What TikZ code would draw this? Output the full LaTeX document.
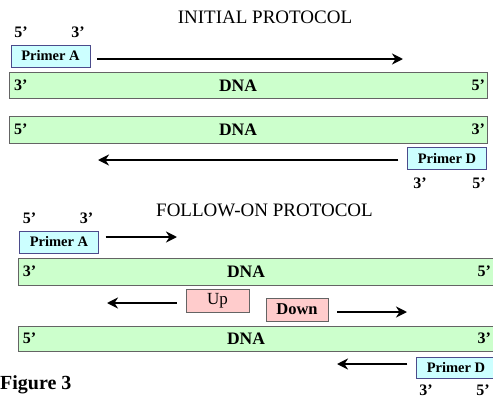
\documentclass[tikz,border=0pt]{standalone}
\usepackage{fontspec}
\setmainfont{Liberation Serif}
\usetikzlibrary{arrows.meta,positioning}
\definecolor{strandfill}{RGB}{204,255,204}
\definecolor{primerfill}{RGB}{204,255,255}
\definecolor{probefill}{RGB}{255,204,204}
\definecolor{edge}{RGB}{100,100,100}
\tikzset{
  strand/.style={draw=edge, fill=strandfill, minimum width=478pt, minimum height=26pt, inner sep=0pt},
  primer/.style={draw=edge!75!blue, fill=primerfill, minimum width=79pt, minimum height=22pt,
                 inner sep=0pt, font=\fontsize{14.5}{14.5}\selectfont\bfseries},
  probe/.style={draw=edge, fill=probefill, minimum height=23pt, inner sep=0pt},
  dnatext/.style={font=\fontsize{17.5}{17.5}\selectfont\bfseries, inner sep=0pt},
  endtag/.style={font=\fontsize{16}{16}\selectfont\bfseries, inner sep=0pt},
  heading/.style={font=\fontsize{19}{19}\selectfont, inner sep=0pt},
  flow/.style={-{Stealth[length=11pt,width=11pt,inset=3.5pt]}, line width=2.6pt},
}
\begin{document}
\begin{tikzpicture}[x=1pt,y=-1pt]
\useasboundingbox (0,0) rectangle (493,399);
\clip (0,0) rectangle (493,399);

% initial protocol
\node[heading] (t1) at (265,17) {INITIAL PROTOCOL};
\node[endtag] (pa1five) at (21,32) {5'};
\node[endtag] (pa1three) at (78,32) {3'};
\node[primer] (pa1) at (50.5,56) {Primer A};
\node[strand] (s1) at (248,85.5) {};
\node[dnatext] (s1lab) at (238,85.5) {DNA};
\node[endtag,right=5pt of s1.west] (s1l) {3'};
\node[endtag,left=2pt of s1.east] (s1r) {5'};
\node[strand,minimum height=27pt] (s2) at (248,129.5) {};
\node[dnatext] (s2lab) at (238,129.5) {DNA};
\node[endtag,right=5pt of s2.west] (s2l) {5'};
\node[endtag,left=2pt of s2.east] (s2r) {3'};
\node[primer] (pd1) at (447,158.5) {Primer D};
\node[endtag] (pd1three) at (420,183) {3'};
\node[endtag] (pd1five) at (479,183) {5'};

\coordinate (a1s) at ([xshift=7pt,yshift=-3pt]pa1.east);
\coordinate (a1e) at (403,59);
\draw[flow] (a1s) -- (a1e);
\coordinate (d1s) at ([xshift=-9pt,yshift=-1.5pt]pd1.west);
\coordinate (d1e) at (98,160);
\draw[flow] (d1s) -- (d1e);

% follow-on protocol
\node[heading] (t2) at (264.5,210) {FOLLOW-ON PROTOCOL};
\node[endtag] (pa2five) at (29.5,218) {5'};
\node[endtag] (pa2three) at (86.5,218) {3'};
\node[primer] (pa2) at (59,242) {Primer A};
\node[strand,minimum height=27pt] (s3) at (257,271.5) {};
\node[dnatext] (s3lab) at (246,271.5) {DNA};
\node[endtag,right=5pt of s3.west] (s3l) {3'};
\node[endtag,left=5pt of s3.east] (s3r) {5'};
\node[probe,minimum width=63pt,font=\fontsize{17}{17}\selectfont] (up) at (217.5,300.5) {Up};
\node[probe,minimum width=62pt,font=\fontsize{16.5}{16.5}\selectfont\bfseries] (down) at (297,309.5) {Down};
\node[strand,minimum height=25pt] (s4) at (257,338.5) {};
\node[dnatext] (s4lab) at (246,338.5) {DNA};
\node[endtag,right=5pt of s4.west] (s4l) {5'};
\node[endtag,left=5pt of s4.east] (s4r) {3'};
\node[primer,minimum height=21pt] (pd2) at (456,367.5) {Primer D};
\node[endtag] (pd2three) at (426,390) {3'};
\node[endtag] (pd2five) at (483,390) {5'};

\coordinate (a2s) at ([xshift=7pt,yshift=5pt]pa2.east);
\coordinate (a2e) at (177,237);
\draw[flow] (a2s) -- (a2e);
\coordinate (ups) at ([xshift=-9pt,yshift=-2.5pt]up.west);
\coordinate (upe) at (107,303);
\draw[flow] (ups) -- (upe);
\coordinate (dns) at ([xshift=9pt,yshift=-2.5pt]down.east);
\coordinate (dne) at (407,312);
\draw[flow] (dns) -- (dne);
\coordinate (d2s) at ([xshift=-9pt,yshift=3.5pt]pd2.west);
\coordinate (d2e) at (337,364);
\draw[flow] (d2s) -- (d2e);

\node[anchor=west,inner sep=0pt,font=\fontsize{20}{20}\selectfont\bfseries] (fig) at (0,385) {Figure 3};
\end{tikzpicture}
\end{document}
